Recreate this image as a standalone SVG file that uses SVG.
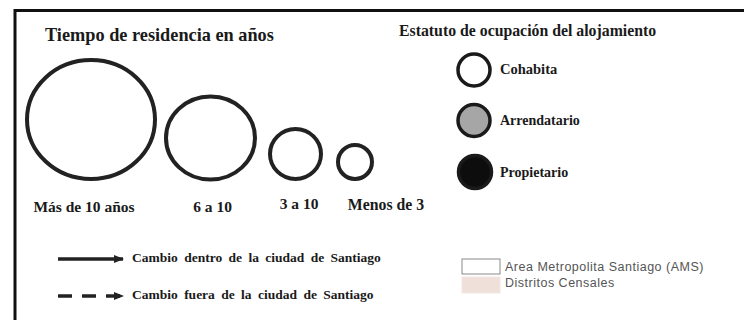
<svg xmlns="http://www.w3.org/2000/svg" width="744" height="320" viewBox="0 0 744 320">
<style>
.ser{font-family:"Liberation Serif","Times New Roman",serif;font-weight:bold;fill:#1a1a1a}
.ring{fill:none;stroke:#222;stroke-width:4}
.leg{stroke:#1a1a1a;stroke-width:3.5}
.sans{font-family:"Liberation Sans",Arial,sans-serif;fill:#555;font-size:12.5px;letter-spacing:0.5px}
.ln{stroke:#222;stroke-width:3.5;fill:none}
</style>
<defs>
<marker id="ah" markerWidth="10" markerHeight="8" refX="9" refY="4" orient="auto" markerUnits="userSpaceOnUse">
<path d="M0,0 L10,4 L0,8 Z" fill="#222"/>
</marker>
</defs>
<rect width="744" height="320" fill="#fff"/>
<path d="M15,320 V10.5 H744" fill="none" stroke="#111" stroke-width="3"/>

<g id="titles">
<text class="ser" x="45" y="41" font-size="18.3">Tiempo de residencia en años</text>
<text class="ser" x="399" y="36" font-size="15.8">Estatuto de ocupación del alojamiento</text>
</g>

<g id="size-mas10">
<ellipse class="ring" cx="91" cy="119.5" rx="64" ry="59.5"/>
<text class="ser" x="84" y="212" font-size="15.5" text-anchor="middle">Más de 10 años</text>
</g>
<g id="size-6a10">
<ellipse class="ring" cx="210.5" cy="138" rx="44.5" ry="41.5"/>
<text class="ser" x="212.5" y="212" font-size="15.5" text-anchor="middle">6 a 10</text>
</g>
<g id="size-3a10">
<ellipse class="ring" cx="295.5" cy="154" rx="25.5" ry="25"/>
<text class="ser" x="299" y="209" font-size="15.5" text-anchor="middle">3 a 10</text>
</g>
<g id="size-menos3">
<ellipse class="ring" cx="355" cy="162" rx="17" ry="17"/>
<text class="ser" x="386" y="210" font-size="15.8" text-anchor="middle">Menos de 3</text>
</g>

<g id="status-cohabita">
<circle class="leg" cx="474" cy="70" r="16" fill="#fff"/>
<text class="ser" x="500" y="74" font-size="14.5">Cohabita</text>
</g>
<g id="status-arrendatario">
<circle class="leg" cx="474" cy="120.5" r="16" fill="#a6a6a6"/>
<text class="ser" x="500" y="125" font-size="14">Arrendatario</text>
</g>
<g id="status-propietario">
<circle class="leg" cx="475" cy="172" r="16.5" fill="#0d0d0d"/>
<text class="ser" x="500" y="177" font-size="14">Propietario</text>
</g>

<g id="connectors">
<line class="ln" x1="58" y1="259" x2="123" y2="259" marker-end="url(#ah)"/>
<line class="ln" x1="58" y1="296" x2="123" y2="296" stroke-dasharray="14 10" marker-end="url(#ah)"/>
</g>
<g id="connector-labels">
<text class="ser" x="132" y="262" font-size="13.5" word-spacing="3">Cambio dentro de la ciudad de Santiago</text>
<text class="ser" x="132" y="299" font-size="13.5" word-spacing="3">Cambio fuera de la ciudad de Santiago</text>
</g>

<g id="map-legend">
<rect x="462" y="259" width="38" height="15" fill="#fff" stroke="#8a8a8a" stroke-width="1"/>
<rect x="462" y="277" width="38" height="16" fill="#efe0da" stroke="#f3e6e2" stroke-width="1"/>
<text class="sans" x="505" y="271">Area Metropolita Santiago (AMS)</text>
<text class="sans" x="505" y="287">Distritos Censales</text>
</g>
</svg>
